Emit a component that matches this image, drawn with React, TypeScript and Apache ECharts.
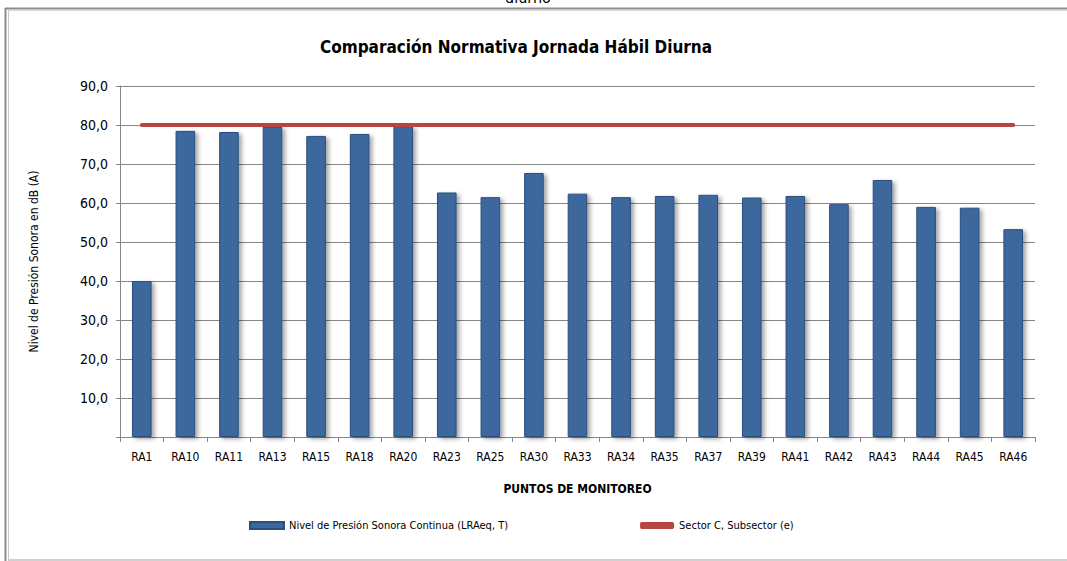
import React, { useEffect, useRef } from "react";
import * as echarts from "echarts";

const categories = ["RA1","RA10","RA11","RA13","RA15","RA18","RA20","RA23","RA25","RA30","RA33","RA34","RA35","RA37","RA39","RA41","RA42","RA43","RA44","RA45","RA46"];
const nivelValues = [40.0,78.5,78.2,79.6,77.2,77.7,79.7,62.7,61.5,67.7,62.4,61.5,61.8,62.1,61.4,61.8,59.7,65.9,59.0,58.8,53.3];
const limitValues = [80,80,80,80,80,80,80,80,80,80,80,80,80,80,80,80,80,80,80,80,80];
const seriesNames = ["Nivel de Presión Sonora Continua (LRAeq, T)", "Sector C, Subsector (e)"];

const FONT = "'DejaVu Sans Condensed', 'DejaVu Sans', sans-serif";

export default function App() {
  const ref = useRef<HTMLDivElement>(null);
  useEffect(() => {
    if (!ref.current) return;
    const chart = echarts.init(ref.current, null, { renderer: "svg" });
    chart.setOption({
      animation: false,
      backgroundColor: "#ffffff",
      textStyle: { fontFamily: FONT },
      title: {
        text: "Comparación Normativa Jornada Hábil Diurna",
        left: 511,
        textAlign: "center",
        top: 33,
        textStyle: { fontFamily: FONT, fontSize: 17, fontWeight: "bold", color: "#000" },
      },
      graphic: [
        { type: "text", left: 505, top: -11, style: { text: "diurno", font: "16px " + FONT, fill: "#000" } },
        { type: "line", shape: { x1: 5, y1: 8.5, x2: 1067, y2: 8.5 }, style: { stroke: "#8c8c8c", lineWidth: 2 } },
        { type: "line", shape: { x1: 8, y1: 10.5, x2: 1067, y2: 10.5 }, style: { stroke: "#d9d9d9", lineWidth: 1 } },
        { type: "line", shape: { x1: 5.5, y1: 8, x2: 5.5, y2: 561 }, style: { stroke: "#8c8c8c", lineWidth: 2 } },
        { type: "line", shape: { x1: 8.5, y1: 11, x2: 8.5, y2: 561 }, style: { stroke: "#c8c8c8", lineWidth: 1 } },
        { type: "line", shape: { x1: 9, y1: 560, x2: 1067, y2: 560 }, style: { stroke: "#d0d0d0", lineWidth: 2 } },
      ],
      legend: {
        left: 244,
        top: 515,
        itemGap: 132,
        itemWidth: 34,
        itemHeight: 7,
        textStyle: { fontFamily: FONT, fontSize: 11, color: "#000" },
        data: [
          { name: seriesNames[0], icon: "rect" },
          { name: seriesNames[1], icon: "roundRect", itemStyle: { color: "#b94542" } },
        ],
      },
      grid: { left: 120, right: 32, top: 86, bottom: 124 },
      xAxis: {
        type: "category",
        data: categories,
        name: "PUNTOS DE MONITOREO",
        nameLocation: "middle",
        nameGap: 46,
        nameTextStyle: { fontFamily: FONT, fontSize: 12, fontWeight: "bold", color: "#000" },
        axisLine: { lineStyle: { color: "#868686", width: 1 } },
        axisTick: { show: true, interval: 0, length: 5, lineStyle: { color: "#868686" } },
        axisLabel: { interval: 0, margin: 14, fontFamily: FONT, fontSize: 12, color: "#000" },
      },
      yAxis: {
        type: "value",
        min: 0,
        max: 90,
        interval: 10,
        name: "Nivel de Presión Sonora en dB (A)",
        nameLocation: "middle",
        nameGap: 80,
        nameRotate: 90,
        nameTextStyle: { fontFamily: FONT, fontSize: 12, color: "#000" },
        axisLine: { show: true, lineStyle: { color: "#868686", width: 1 } },
        axisTick: { show: true, length: 4, lineStyle: { color: "#868686" } },
        splitLine: { show: true, lineStyle: { color: "#868686", width: 1 } },
        axisLabel: {
          margin: 12,
          fontFamily: FONT,
          fontSize: 14,
          color: "#000",
          formatter: (v: number) => (v === 0 ? "" : v.toFixed(1).replace(".", ",")),
        },
      },
      series: [
        {
          name: seriesNames[0],
          type: "bar",
          data: nivelValues,
          barWidth: "45%",
          itemStyle: {
            color: "#3c679e",
            borderColor: "#2d4f7c",
            borderWidth: 1,
            shadowColor: "rgba(0,0,0,0.35)",
            shadowBlur: 4,
            shadowOffsetX: 3,
            shadowOffsetY: 2,
          },
        },
        {
          name: seriesNames[1],
          type: "line",
          data: limitValues,
          showSymbol: false,
          symbol: "none",
          lineStyle: {
            color: "#b94542",
            width: 4,
            cap: "round",
          },
          itemStyle: { color: "#b94542" },
          z: 3,
        },
      ],
    });
    return () => chart.dispose();
  }, []);
  return <div ref={ref} style={{ position: "fixed", left: 0, top: 0, width: 1067, height: 561 }} />;
}
